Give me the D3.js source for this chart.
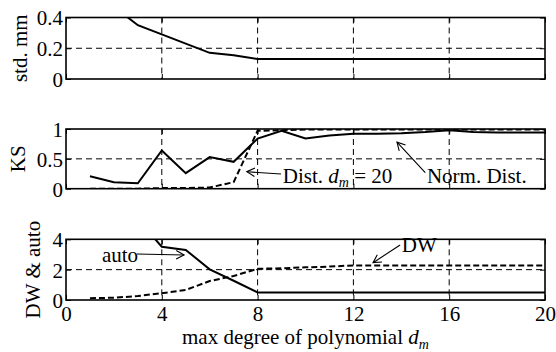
<!DOCTYPE html>
<html>
<head>
<meta charset="utf-8">
<script src="https://cdn.jsdelivr.net/npm/d3@7"></script>
<style>
  body { margin: 0; background: #fff; }
  text { font-family: "Liberation Serif", "Times New Roman", serif; fill: #000; }
</style>
</head>
<body>
<svg id="chart" width="556" height="352"></svg>
<script>
// Données
const degree = [1, 2, 3, 4, 5, 6, 7, 8, 9, 10, 11, 12, 13, 14, 15, 16, 17, 18, 19, 20];
const stdMM = [0.62, 0.47, 0.35, 0.29, 0.23, 0.17, 0.155, 0.13, 0.13, 0.13, 0.13, 0.13, 0.13, 0.13, 0.13, 0.13, 0.13, 0.13, 0.13, 0.13];
const ksNorm = [0.21, 0.11, 0.09, 0.64, 0.26, 0.53, 0.45, 0.84, 0.97, 0.84, 0.89, 0.92, 0.92, 0.93, 0.95, 0.98, 0.95, 0.94, 0.94, 0.94];
const ksDist = [0, 0, 0, 0.01, 0.01, 0.02, 0.11, 0.97, 0.98, 0.99, 0.99, 0.99, 0.99, 0.99, 0.99, 0.99, 0.99, 0.99, 0.99, 0.99];
const autoVals = [8, 6.6, 5.3, 3.51, 3.3, 2.02, 1.27, 0.5, 0.5, 0.5, 0.5, 0.5, 0.5, 0.5, 0.5, 0.5, 0.5, 0.5, 0.5, 0.5];
const dwVals = [0.12, 0.15, 0.26, 0.45, 0.66, 1.25, 1.58, 2.06, 2.09, 2.15, 2.2, 2.28, 2.28, 2.28, 2.28, 2.28, 2.28, 2.28, 2.28, 2.28];

const xTicks = [0, 4, 8, 12, 16, 20];
const stdTicks = [0, 0.2, 0.4];
const ksTicks = [0, 0.5, 1];
const dwTicks = [0, 2, 4];

const svg = d3.select("#chart");
const fs = 21;

const x = d3.scaleLinear().domain([0, 20]).range([66, 545]);

// Les trois panneaux
const panels = [
  { id: "p1", top: 17.5, bottom: 79, domain: [0, 0.4], ticks: stdTicks, label: "std. mm", labelX: 27,
    fmt: (d) => (d === 0 ? "0" : d3.format(".1f")(d)),
    series: [{ values: stdMM, dash: null }] },
  { id: "p2", top: 129, bottom: 188.7, domain: [0, 1], ticks: ksTicks, label: "KS", labelX: 25,
    fmt: (d) => (d === 0.5 ? "0.5" : String(d)),
    series: [{ values: ksDist, dash: "6,3" }, { values: ksNorm, dash: null }] },
  { id: "p3", top: 239.3, bottom: 300, domain: [0, 4], ticks: dwTicks, label: "DW & auto", labelX: 40,
    fmt: (d) => String(d),
    series: [{ values: dwVals, dash: "6,3" }, { values: autoVals, dash: null }] },
];

panels.forEach((p, i) => {
  const y = d3.scaleLinear().domain(p.domain).range([p.bottom, p.top]);
  p.y = y;
  const g = svg.append("g");

  // Clip pour les courbes
  svg.append("clipPath").attr("id", "clip-" + p.id)
    .append("rect")
    .attr("x", x(0)).attr("y", p.top)
    .attr("width", x(20) - x(0)).attr("height", p.bottom - p.top);

  // Grille en tirets
  const grid = g.append("g").attr("stroke", "#000").attr("stroke-width", 1).attr("stroke-dasharray", "6,4");
  xTicks.slice(1, -1).forEach((t) => {
    grid.append("line").attr("x1", x(t)).attr("x2", x(t)).attr("y1", p.top).attr("y2", p.bottom);
  });
  p.ticks.slice(1, -1).forEach((t) => {
    grid.append("line").attr("x1", x(0)).attr("x2", x(20)).attr("y1", y(t)).attr("y2", y(t));
  });

  // Courbes
  const line = d3.line().x((d, j) => x(degree[j])).y((d) => y(d));
  p.series.forEach((s) => {
    g.append("path")
      .datum(s.values)
      .attr("clip-path", "url(#clip-" + p.id + ")")
      .attr("fill", "none")
      .attr("stroke", "#000")
      .attr("stroke-width", 2)
      .attr("stroke-dasharray", s.dash)
      .attr("d", line);
  });

  // Axes (ticks vers l'intérieur)
  const axB = d3.axisBottom(x).tickValues(xTicks).tickSizeInner(-5).tickSizeOuter(0).tickFormat(i === 2 ? null : () => "");
  const axT = d3.axisTop(x).tickValues(xTicks).tickSizeInner(-5).tickSizeOuter(0).tickFormat(() => "");
  const axL = d3.axisLeft(y).tickValues(p.ticks).tickSizeInner(-5).tickSizeOuter(0).tickFormat(p.fmt);
  const axR = d3.axisRight(y).tickValues(p.ticks).tickSizeInner(-5).tickSizeOuter(0).tickFormat(() => "");

  const styleAxis = (sel) => {
    sel.select(".domain").remove();
    sel.selectAll(".tick line").attr("stroke", "#000").attr("stroke-width", 1);
    sel.selectAll(".tick text").style("font-family", "Liberation Serif").style("font-size", fs + "px").attr("fill", "#000");
  };
  g.append("g").attr("transform", `translate(0,${p.bottom})`).call(axB).call(styleAxis)
    .selectAll(".tick text").attr("dy", "0.9em").attr("y", 2);
  g.append("g").attr("transform", `translate(0,${p.top})`).call(axT).call(styleAxis);
  g.append("g").attr("transform", `translate(${x(0)},0)`).call(axL).call(styleAxis)
    .selectAll(".tick text").attr("x", -3).attr("dy", "0.35em");
  g.append("g").attr("transform", `translate(${x(20)},0)`).call(axR).call(styleAxis);

  // Cadre
  g.append("rect")
    .attr("x", x(0)).attr("y", p.top)
    .attr("width", x(20) - x(0)).attr("height", p.bottom - p.top)
    .attr("fill", "none").attr("stroke", "#000").attr("stroke-width", 1.6);

  // Titre de l'axe y
  g.append("text")
    .attr("transform", `translate(${p.labelX},${(p.top + p.bottom) / 2}) rotate(-90)`)
    .attr("text-anchor", "middle")
    .style("font-size", fs + "px")
    .text(p.label);
});

// Flèche d'annotation (tête ouverte)
const arrow = (p, from, to) => {
  const x1 = x(from[0]), y1 = p.y(from[1]);
  const x2 = x(to[0]), y2 = p.y(to[1]);
  const a = Math.atan2(y2 - y1, x2 - x1);
  const len = 9, spread = 0.5;
  const g = svg.append("g").attr("stroke", "#000").attr("stroke-width", 1.1).attr("fill", "none");
  g.append("line").attr("x1", x1).attr("y1", y1).attr("x2", x2).attr("y2", y2);
  g.append("path").attr("d",
    `M${x2 - len * Math.cos(a - spread)},${y2 - len * Math.sin(a - spread)}L${x2},${y2}L${x2 - len * Math.cos(a + spread)},${y2 - len * Math.sin(a + spread)}`);
};

const label = (p, pos, parts) => {
  const t = svg.append("text").attr("x", x(pos[0])).attr("y", p.y(pos[1])).style("font-size", fs + "px");
  parts.forEach((s) => {
    const ts = t.append("tspan").text(s.text);
    if (s.italic) ts.style("font-style", "italic");
    if (s.sub) ts.style("font-size", "14px").attr("dy", 4);
    if (s.up) ts.attr("dy", -4);
  });
};

// Annotations panneau KS
arrow(panels[1], [8.98, 0.245], [7.55, 0.285]);
label(panels[1], [9.05, 0.1], [{ text: "Dist. " }, { text: "d", italic: true }, { text: "m", italic: true, sub: true }, { text: " = 20", up: true }]);
arrow(panels[1], [15.0, 0.27], [13.82, 0.78]);
label(panels[1], [15.07, 0.1], [{ text: "Norm. Dist." }]);

// Annotations panneau DW & auto
arrow(panels[2], [2.96, 3.03], [4.93, 2.97]);
label(panels[2], [1.5, 2.52], [{ text: "auto" }]);
arrow(panels[2], [13.95, 3.62], [12.82, 2.46]);
label(panels[2], [14.02, 3.18], [{ text: "DW" }]);

// Titre de l'axe x
const xl = svg.append("text").attr("x", 182).attr("y", 344).style("font-size", fs + "px");
xl.append("tspan").text("max degree of polynomial  ");
xl.append("tspan").text("d").style("font-style", "italic");
xl.append("tspan").text("m").style("font-style", "italic").style("font-size", "14px").attr("dy", 5);
</script>
</body>
</html>
